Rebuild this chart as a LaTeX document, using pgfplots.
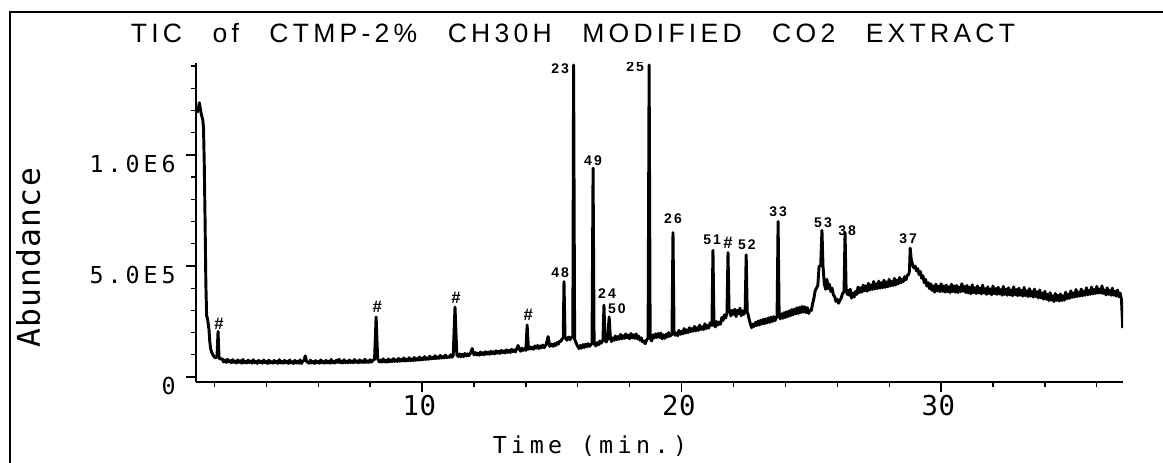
\documentclass[border=0pt]{standalone}
\usepackage{fontspec}
\usepackage{pgfplots}
\pgfplotsset{compat=1.18}
\newfontfamily\titlefont[LetterSpace=16]{Liberation Sans}
\newfontfamily\ytfont[LetterSpace=17]{DejaVu Sans Mono}
\newfontfamily\xtfont[LetterSpace=2]{DejaVu Sans Mono}
\newfontfamily\labfont[LetterSpace=19]{DejaVu Sans Mono}
\newfontfamily\ablabfont[LetterSpace=4]{DejaVu Sans Mono}
\newfontfamily\pkfont[LetterSpace=15]{Liberation Sans}
\newcommand\pk{\pkfont\bfseries\fontsize{10.5bp}{12bp}\selectfont}
\newcommand\hs{\pkfont\bfseries\fontsize{12.5bp}{13bp}\selectfont}
\newcommand\tsp{\hspace*{1.15em}}
\begin{document}
\begin{tikzpicture}
\useasboundingbox (-147bp,-60.75bp) rectangle (725.25bp,286.5bp);
\draw[line width=1.5bp] (-139.5bp,-70bp) -- (-139.5bp,277.5bp) -- (735bp,277.5bp);
\begin{axis}[
  at={(0,0)}, anchor=south west, scale only axis,
  width=695.25bp, height=239.25bp,
  xmin=1.29, xmax=37.01, ymin=-22.5, ymax=1414,
  axis lines=left, axis line style={-, line width=1.4bp},
  xtick={10,20,30}, xticklabels={10,20,30},
  minor xtick={2,4,...,36},
  ytick={0,500,1000}, yticklabels={0,5.0E5,1.0E6},
  minor ytick={100,200,...,1400},
  tick align=outside, major tick length=7.5bp, minor tick length=4bp,
  every tick/.style={line width=1bp, black},
  xticklabel style={font=\xtfont\fontsize{20.5bp}{22bp}\selectfont, anchor=north, inner sep=0pt, xshift=-2bp, yshift=-2bp},
  yticklabel style={font=\ytfont\fontsize{17.5bp}{19bp}\selectfont, anchor=north east, inner sep=0pt, xshift=-7.5bp},
]
\addplot[black, line width=2.2bp, line join=round] coordinates {
(1.33,1190) (1.38,1210) (1.42,1235) (1.46,1205) (1.50,1180) (1.55,1160) (1.58,1120) (1.61,950) (1.64,700) (1.67,420) (1.70,275) (1.73,265) (1.76,240) (1.79,215) (1.82,160) (1.86,125) (1.90,110) (1.95,98) (2.00,90) (2.05,86) (2.10,92) (2.12,150) (2.14,205) (2.16,140) (2.18,88) (2.2,82)
(2.3,82) (2.35,68) (2.4,76) (2.45,66) (2.5,80) (2.55,68) (2.6,74) (2.65,64) (2.7,78) (2.75,66) (2.8,72) (2.85,63) (2.9,77) (2.95,66) (3.0,73) (3.05,62) (3.1,79) (3.15,64) (3.2,70) (3.25,63) (3.3,76) (3.35,65) (3.4,72) (3.45,62) (3.5,78) (3.55,64) (3.6,70) (3.65,61) (3.7,75) (3.75,65) (3.8,71) (3.85,62) (3.9,77) (3.95,64) (4.0,70) (4.05,61) (4.1,76) (4.15,63) (4.2,69) (4.25,62) (4.3,75) (4.35,64) (4.4,71) (4.45,61) (4.5,78) (4.55,63) (4.6,70) (4.65,62) (4.7,75) (4.75,64) (4.8,71) (4.85,61) (4.9,77) (4.95,63) (5.0,69) (5.05,61) (5.1,75) (5.15,63) (5.2,71) (5.25,62) (5.3,77) (5.35,61) (5.4,70) (5.45,75) (5.5,95) (5.55,70) (5.6,66) (5.65,62) (5.7,76) (5.75,63) (5.8,70) (5.85,61) (5.9,74) (5.95,63) (6.0,70) (6.05,62) (6.1,77) (6.15,64) (6.2,70) (6.25,62) (6.3,75) (6.35,64) (6.4,71) (6.45,62) (6.5,79) (6.55,64) (6.6,70) (6.65,63) (6.7,76) (6.75,66) (6.8,80) (6.85,64) (6.9,72) (6.95,63) (7.0,78) (7.05,64) (7.1,71) (7.15,64) (7.2,77) (7.25,65) (7.3,72) (7.35,64) (7.4,79) (7.45,66) (7.5,72) (7.55,64) (7.6,77) (7.65,66) (7.7,73) (7.75,65) (7.8,80) (7.85,66) (7.9,72) (7.95,66) (8.0,78) (8.05,67) (8.1,74) (8.17,80) (8.23,270) (8.29,82)
(8.35,68) (8.4,76) (8.45,67) (8.5,82) (8.55,68) (8.6,75) (8.65,67) (8.7,81) (8.75,69) (8.8,77) (8.85,69) (8.9,83) (8.95,70) (9.0,78) (9.05,70) (9.1,84) (9.15,71) (9.2,79) (9.25,72) (9.3,86) (9.35,72) (9.4,80) (9.45,73) (9.5,87) (9.55,73) (9.6,81) (9.65,74) (9.7,88) (9.75,75) (9.8,83) (9.85,76) (9.9,90) (9.95,77) (10.0,85) (10.05,78) (10.1,92) (10.15,79) (10.2,86) (10.25,80) (10.3,94) (10.35,81) (10.4,88) (10.45,82) (10.5,96) (10.55,83) (10.6,90) (10.65,84) (10.7,97) (10.75,85) (10.8,92) (10.85,86) (10.9,99) (10.95,87) (11.0,93) (11.05,88) (11.1,100) (11.15,89) (11.2,95) (11.27,315) (11.34,100) (11.4,92) (11.45,104) (11.5,91) (11.55,102) (11.6,92) (11.65,106) (11.7,95) (11.75,104) (11.8,96) (11.87,108) (11.93,128) (12.0,100) (12.05,110) (12.1,99) (12.15,108) (12.2,98) (12.25,112) (12.3,101) (12.35,110) (12.4,100) (12.45,114) (12.5,103) (12.55,112) (12.6,102) (12.65,116) (12.7,105) (12.75,114) (12.8,104) (12.85,118) (12.9,107) (12.95,116) (13.0,106) (13.05,120) (13.1,109) (13.15,118) (13.2,108) (13.25,122) (13.3,111) (13.35,120) (13.4,110) (13.45,125) (13.5,114) (13.55,122) (13.6,113) (13.65,128) (13.7,142) (13.75,125) (13.8,116) (13.85,130) (13.9,120) (13.95,128) (14.0,120) (14.05,234) (14.1,125) (14.15,136) (14.2,126) (14.25,134) (14.3,125) (14.35,140) (14.4,130) (14.45,142) (14.5,128) (14.55,140) (14.6,132) (14.65,144) (14.7,132) (14.78,145) (14.86,182) (14.92,138) (15.0,148) (15.05,138) (15.1,150) (15.15,142) (15.2,155) (15.25,148) (15.3,162) (15.35,160) (15.4,172) (15.44,175) (15.47,430) (15.51,180) (15.58,166) (15.65,180) (15.7,168) (15.75,178) (15.81,180) (15.84,1405) (15.88,170) (15.95,150) (16.0,138) (16.05,128) (16.1,142) (16.15,130) (16.2,146) (16.25,133) (16.3,148) (16.35,136) (16.4,150) (16.45,138) (16.55,152) (16.59,940) (16.63,150) (16.7,140) (16.75,155) (16.8,145) (16.85,162) (16.9,152) (16.97,165) (17.01,324) (17.05,165) (17.1,158) (17.15,172) (17.21,270) (17.26,172) (17.3,160) (17.35,176) (17.4,165) (17.45,185) (17.5,168) (17.55,182) (17.6,170) (17.65,192) (17.7,172) (17.75,186) (17.8,174) (17.85,194) (17.9,176) (17.95,188) (18.0,172) (18.05,196) (18.1,176) (18.15,190) (18.2,174) (18.25,194) (18.3,172) (18.35,184) (18.4,165) (18.45,176) (18.5,158) (18.55,162) (18.6,150) (18.65,166) (18.71,175) (18.75,1405) (18.79,175) (18.85,162) (18.9,190) (18.95,176) (19.0,194) (19.05,178) (19.1,196) (19.15,178) (19.2,198) (19.25,172) (19.3,190) (19.35,174) (19.4,192) (19.45,180) (19.5,200) (19.55,184) (19.63,192) (19.67,650) (19.71,205) (19.75,188) (19.8,198) (19.85,186) (19.9,210) (19.95,192) (20.0,206) (20.05,194) (20.1,218) (20.15,198) (20.2,212) (20.25,200) (20.3,222) (20.35,204) (20.4,218) (20.45,206) (20.5,228) (20.55,208) (20.6,222) (20.65,210) (20.7,234) (20.75,214) (20.8,226) (20.85,214) (20.9,240) (20.95,218) (21.0,232) (21.05,220) (21.1,244) (21.17,232) (21.21,570) (21.25,236) (21.3,226) (21.35,250) (21.4,234) (21.45,246) (21.5,238) (21.55,268) (21.6,255) (21.65,280) (21.7,266) (21.75,290) (21.79,560) (21.83,305) (21.87,290) (21.9,275) (21.95,300) (22.0,282) (22.05,305) (22.1,272) (22.15,300) (22.2,285) (22.25,310) (22.3,276) (22.35,298) (22.4,282) (22.45,296) (22.49,550) (22.53,292) (22.57,280) (22.6,262) (22.65,240) (22.7,222) (22.75,238) (22.8,228) (22.85,246) (22.9,232) (22.95,252) (23.0,234) (23.05,256) (23.1,238) (23.15,260) (23.2,240) (23.25,262) (23.3,244) (23.35,266) (23.4,246) (23.45,270) (23.5,250) (23.55,272) (23.6,254) (23.68,274) (23.72,700) (23.76,276) (23.8,262) (23.85,284) (23.9,264) (23.95,290) (24.0,268) (24.05,294) (24.1,272) (24.15,298) (24.2,276) (24.25,304) (24.3,280) (24.35,306) (24.4,284) (24.45,312) (24.5,286) (24.55,314) (24.6,290) (24.65,318) (24.7,292) (24.75,316) (24.8,290) (24.85,312) (24.9,286) (24.95,302) (25.0,300) (25.05,330) (25.1,355) (25.15,390) (25.2,400) (25.25,412) (25.3,500) (25.36,500) (25.41,660) (25.45,500) (25.5,420) (25.55,395) (25.6,440) (25.65,398) (25.7,418) (25.75,385) (25.8,400) (25.85,370) (25.9,362) (25.95,340) (26.0,350) (26.05,332) (26.1,345) (26.15,355) (26.2,375) (26.26,385) (26.3,650) (26.34,400) (26.38,372) (26.42,390) (26.46,368) (26.5,395) (26.55,355) (26.6,378) (26.65,360) (26.7,385) (26.75,372) (26.8,405) (26.85,380) (26.9,402) (26.95,382) (27.0,414) (27.05,388) (27.1,410) (27.15,386) (27.2,422) (27.25,392) (27.3,415) (27.35,394) (27.4,430) (27.45,396) (27.5,420) (27.55,398) (27.6,432) (27.65,400) (27.7,424) (27.75,402) (27.8,436) (27.85,404) (27.9,428) (27.95,406) (28.0,440) (28.05,410) (28.1,430) (28.15,412) (28.2,444) (28.25,414) (28.3,436) (28.35,420) (28.4,448) (28.45,424) (28.5,440) (28.55,430) (28.6,452) (28.65,438) (28.7,458) (28.75,462) (28.78,475) (28.81,580) (28.85,530) (28.9,505) (28.95,492) (29.0,500) (29.05,478) (29.1,488) (29.15,462) (29.2,475) (29.25,445) (29.3,456) (29.35,425) (29.4,440) (29.45,410) (29.5,425) (29.55,398) (29.6,420) (29.65,390) (29.7,410) (29.75,382) (29.8,418) (29.85,388) (29.9,408) (29.95,384) (30.0,420) (30.05,386) (30.1,410) (30.15,382) (30.2,414) (30.25,384) (30.3,406) (30.35,380) (30.4,418) (30.45,385) (30.5,410) (30.55,382) (30.6,412) (30.65,380) (30.7,405) (30.75,384) (30.8,420) (30.85,386) (30.9,408) (30.95,380) (31.0,412) (31.05,378) (31.1,404) (31.15,375) (31.2,415) (31.25,380) (31.3,402) (31.35,376) (31.4,410) (31.45,378) (31.5,400) (31.55,374) (31.6,414) (31.65,378) (31.7,398) (31.75,372) (31.8,406) (31.85,376) (31.9,396) (31.95,370) (32.0,410) (32.05,375) (32.1,398) (32.15,372) (32.2,404) (32.25,374) (32.3,394) (32.35,368) (32.4,408) (32.45,372) (32.5,396) (32.55,368) (32.6,402) (32.65,370) (32.7,392) (32.75,366) (32.8,406) (32.85,370) (32.9,394) (32.95,366) (33.0,400) (33.05,368) (33.1,390) (33.15,364) (33.2,404) (33.25,366) (33.3,388) (33.35,362) (33.4,398) (33.45,364) (33.5,386) (33.55,360) (33.6,396) (33.65,362) (33.7,384) (33.75,356) (33.8,392) (33.85,356) (33.9,378) (33.95,350) (34.0,386) (34.05,350) (34.1,372) (34.15,344) (34.2,380) (34.25,346) (34.3,366) (34.35,340) (34.4,376) (34.45,345) (34.5,368) (34.55,342) (34.6,374) (34.65,344) (34.7,366) (34.75,346) (34.8,382) (34.85,352) (34.9,372) (34.95,354) (35.0,388) (35.05,358) (35.1,378) (35.15,360) (35.2,394) (35.25,362) (35.3,382) (35.35,364) (35.4,396) (35.45,366) (35.5,386) (35.55,368) (35.6,402) (35.65,370) (35.7,390) (35.75,372) (35.8,405) (35.85,374) (35.9,394) (35.95,376) (36.0,408) (36.05,378) (36.1,396) (36.15,378) (36.2,410) (36.25,376) (36.3,392) (36.35,370) (36.4,402) (36.45,372) (36.5,390) (36.55,368) (36.6,400) (36.65,368) (36.7,386) (36.75,364) (36.8,392) (36.85,362) (36.9,378) (36.95,350) (37.0,220)
};
\node[font=\hs] at (axis cs:2.18,238) {\#};
\node[font=\hs] at (axis cs:8.27,318) {\#};
\node[font=\hs] at (axis cs:11.31,358) {\#};
\node[font=\hs] at (axis cs:14.09,282) {\#};
\node[font=\pk] at (axis cs:15.32,468) {48};
\node[font=\pk] at (axis cs:15.32,1387) {23};
\node[font=\pk] at (axis cs:16.59,973) {49};
\node[font=\pk] at (axis cs:17.13,374) {24};
\node[font=\pk] at (axis cs:17.51,306) {50};
\node[font=\pk] at (axis cs:18.21,1396) {25};
\node[font=\pk] at (axis cs:19.67,712) {26};
\node[font=\pk] at (axis cs:21.18,617) {51};
\node[font=\hs] at (axis cs:21.79,603) {\#};
\node[font=\pk] at (axis cs:22.52,595) {52};
\node[font=\pk] at (axis cs:23.72,743) {33};
\node[font=\pk] at (axis cs:25.45,694) {53};
\node[font=\pk] at (axis cs:26.38,658) {38};
\node[font=\pk] at (axis cs:28.73,622) {37};
\end{axis}
\node[anchor=base, font=\titlefont\fontsize{19.9bp}{22bp}\selectfont] at (282.75bp,254.25bp) {TIC\tsp of\tsp CTMP-2\%\tsp CH30H\tsp MODIFIED\tsp CO2\tsp EXTRACT};
\node[anchor=base, font=\labfont\fontsize{17.5bp}{19bp}\selectfont] at (295.5bp,-53.25bp) {Time (min.)};
\node[anchor=base, rotate=90, font=\ablabfont\fontsize{23.5bp}{25bp}\selectfont] at (-117bp,93bp) {Abundance};
\end{tikzpicture}
\end{document}
